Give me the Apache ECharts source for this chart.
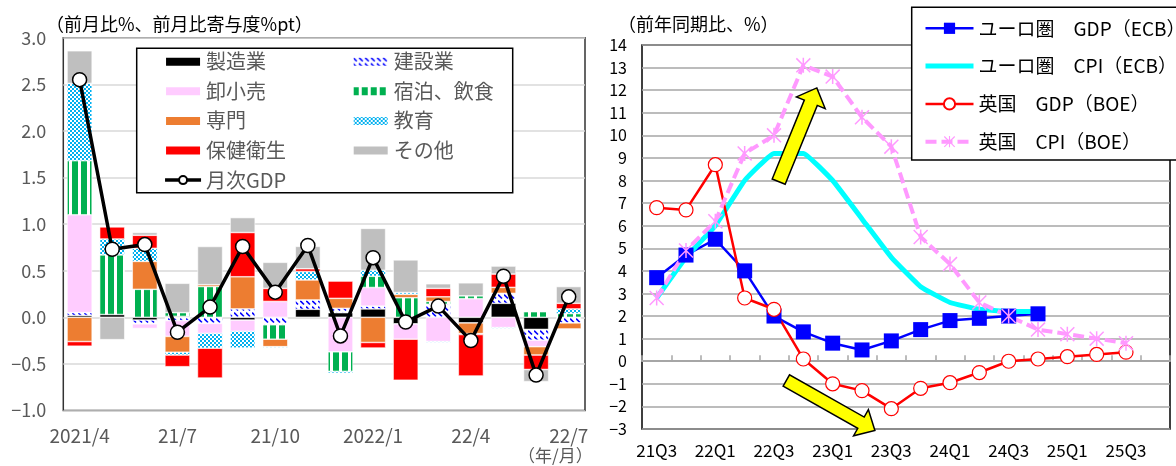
<!DOCTYPE html>
<html>
<head>
<meta charset="utf-8">
<script src="https://cdn.jsdelivr.net/npm/echarts@6/dist/echarts.min.js"></script>
<style>
  html, body { margin: 0; padding: 0; background: #fff; }
  #chart { width: 1176px; height: 466px; }
</style>
</head>
<body>
<div id="chart"></div>
<script>
// ---- Left panel: monthly GDP and industry contributions (% m/m, %pt) ----
const months = ['2021/4','21/5','21/6','21/7','21/8','21/9','21/10','21/11','21/12','2022/1','22/2','22/3','22/4','22/5','22/6','22/7'];
const manufacturing = [0.02, 0.03, -0.03, 0.01, 0, -0.03, 0, 0.086, 0.05, 0.09, -0.07, 0, -0.06, 0.15, -0.13, 0];
const construction  = [0.03, 0, -0.04, -0.035, -0.065, 0.09, -0.08, 0.10, 0.046, 0.03, 0, 0.14, 0, 0.107, -0.115, -0.06];
const retail        = [1.05, 0, -0.05, -0.17, -0.107, -0.12, 0.17, 0, -0.37, 0.20, -0.165, -0.26, 0.20, -0.11, -0.07, 0];
const hospitality   = [0.58, 0.64, 0.30, 0.04, 0.33, 0, -0.155, 0, -0.21, 0.12, 0.21, 0.03, 0.03, 0, 0.06, 0.04];
const professional  = [-0.26, 0, 0.30, -0.17, 0.02, 0.345, -0.08, 0.215, 0.107, -0.27, 0.036, 0.05, -0.115, 0.064, -0.09, -0.065];
const education     = [0.83, 0.17, 0.14, -0.03, -0.16, -0.18, -0.01, 0.09, -0.02, 0.064, 0.02, -0.01, -0.01, -0.01, 0, 0.05];
const health        = [-0.05, 0.13, 0.14, -0.125, -0.32, 0.475, 0.14, 0.03, 0.186, -0.06, -0.44, 0.09, -0.445, 0.143, -0.155, 0.06];
const other         = [0.35, -0.24, 0.03, 0.315, 0.41, 0.16, 0.28, 0.24, 0, 0.45, 0.35, 0.05, 0.14, 0.086, -0.13, 0.18];
const monthlyGdp    = [2.55, 0.73, 0.78, -0.16, 0.11, 0.76, 0.27, 0.77, -0.2, 0.64, -0.05, 0.12, -0.25, 0.44, -0.62, 0.22];
const leftTicks = { min: -1, max: 3, interval: 0.5 };

// ---- Right panel: projections (% y/y) ----
const quarters = ['21Q3','21Q4','22Q1','22Q2','22Q3','22Q4','23Q1','23Q2','23Q3','23Q4','24Q1','24Q2','24Q3','24Q4','25Q1','25Q2','25Q3','25Q4'];
const euroGdp = [3.7, 4.7, 5.4, 4.0, 2.0, 1.3, 0.8, 0.5, 0.9, 1.4, 1.8, 1.9, 2.0, 2.1];
const euroCpi = [2.8, 4.6, 6.0, 8.0, 9.2, 9.2, 8.0, 6.3, 4.6, 3.3, 2.6, 2.3, 2.2, 2.2];
const ukGdp   = [6.8, 6.7, 8.7, 2.8, 2.3, 0.1, -1.0, -1.3, -2.1, -1.2, -0.95, -0.5, 0.0, 0.1, 0.2, 0.3, 0.4];
const ukCpi   = [2.8, 4.9, 6.2, 9.2, 10.0, 13.1, 12.6, 10.8, 9.5, 5.5, 4.3, 2.6, 2.0, 1.4, 1.2, 1.0, 0.8];
const rightTicks = { min: -3, max: 14, interval: 1 };

// Arrow annotations in data space: [categoryIndex, value]
const upArrow   = { tail: [4.16, 7.95], tip: [5.46, 12.1] };
const downArrow = { tail: [4.42, -0.85], tip: [7.44, -3.07] };

const FONT = '"Noto Sans CJK JP", "Noto Sans", sans-serif';
const GRAY_TEXT = '#595959';

function makePattern(w, h, draw) {
  const c = document.createElement('canvas');
  c.width = w; c.height = h;
  const ctx = c.getContext('2d');
  draw(ctx, w, h);
  return { image: c, repeat: 'repeat' };
}
const diagBlue = makePattern(6, 6, (ctx, w, h) => {
  ctx.fillStyle = '#fff'; ctx.fillRect(0, 0, w, h);
  ctx.strokeStyle = '#0000FF'; ctx.lineWidth = 1.6;
  ctx.beginPath(); ctx.moveTo(0, 0.5); ctx.lineTo(4, 4.5); ctx.stroke();
});
const greenStripes = makePattern(9, 4, (ctx, w, h) => {
  ctx.fillStyle = '#fff'; ctx.fillRect(0, 0, w, h);
  ctx.fillStyle = '#00B050'; ctx.fillRect(0, 0, 6, h);
});
const cyanChecker = makePattern(4, 4, (ctx, w, h) => {
  ctx.fillStyle = '#fff'; ctx.fillRect(0, 0, w, h);
  ctx.fillStyle = '#00B0F0'; ctx.fillRect(0, 0, 2, 2); ctx.fillRect(2, 2, 2, 2);
});

const barDefs = [
  ['製造業', manufacturing, '#000000'],
  ['建設業', construction, diagBlue],
  ['卸小売', retail, '#FFCCFF'],
  ['宿泊、飲食', hospitality, greenStripes],
  ['専門', professional, '#ED7D31'],
  ['教育', education, cyanChecker],
  ['保健衛生', health, '#FF0000'],
  ['その他', other, '#BFBFBF']
];

const barSeries = barDefs.map(([name, values, color]) => ({
  name, type: 'bar', stack: 'contrib',
  xAxisIndex: 0, yAxisIndex: 0,
  barWidth: '77%',
  data: values.map(v => (v === 0 ? null : v)),
  itemStyle: { color, borderColor: '#ffffff', borderWidth: 0.6 },
  emphasis: { disabled: true }
}));

const starPath = 'path://M9,0L11,0L11,20L9,20Z M0,1.4L1.4,0L20,18.6L18.6,20Z M18.6,0L20,1.4L1.4,20L0,18.6Z';
const minus = s => String(s).replace('-', '\u2212');

const chart = echarts.init(document.getElementById('chart'), null, { renderer: 'canvas' });

const option = {
  animation: false,
  textStyle: { fontFamily: FONT },
  grid: [
    { left: 63.3, top: 37.7, width: 521.7, height: 372.8, show: true, borderColor: '#333333', borderWidth: 1.5, backgroundColor: 'transparent' },
    { left: 642, top: 45, width: 528, height: 384, show: true, borderColor: '#000000', borderWidth: 1.5, backgroundColor: 'transparent' }
  ],
  xAxis: [
    {
      type: 'category', gridIndex: 0, data: months, position: 'bottom',
      axisLine: { show: false, onZero: false }, axisTick: { show: false },
      axisLabel: { interval: 2, color: GRAY_TEXT, fontSize: 19, margin: 16, fontFamily: FONT },
      splitLine: { show: false }
    },
    {
      type: 'category', gridIndex: 1, data: quarters, position: 'bottom',
      axisLine: { show: false, onZero: false }, axisTick: { show: false },
      axisLabel: { interval: 1, color: '#000', fontSize: 17, margin: 13, fontFamily: FONT },
      splitLine: { show: false }
    },
    {
      type: 'category', gridIndex: 1, data: quarters, position: 'bottom',
      axisLine: { show: true, onZero: true, onZeroAxisIndex: 1, lineStyle: { color: '#a6a6a6', width: 2 } },
      axisTick: { show: true, inside: true, length: 6, interval: 0, lineStyle: { color: '#a6a6a6', width: 1.5 } },
      axisLabel: { show: false },
      splitLine: { show: false }
    }
  ],
  yAxis: [
    {
      type: 'value', gridIndex: 0, min: leftTicks.min, max: leftTicks.max, interval: leftTicks.interval,
      axisLine: { show: false }, axisTick: { show: false },
      axisLabel: { color: GRAY_TEXT, fontSize: 18, margin: 17, fontFamily: FONT, formatter: v => minus(v.toFixed(1)) },
      splitLine: { lineStyle: { color: '#d9d9d9', width: 1.5 } }
    },
    {
      type: 'value', gridIndex: 1, min: rightTicks.min, max: rightTicks.max, interval: rightTicks.interval,
      axisLine: { show: false }, axisTick: { show: false },
      axisLabel: { color: '#000', fontSize: 16, margin: 15, fontFamily: FONT, formatter: v => minus(v) },
      splitLine: { lineStyle: { color: '#a6a6a6', width: 1.5 } }
    }
  ],
  legend: [
    {
      orient: 'vertical', left: 163.3, top: 51.7, padding: 0, itemGap: 9.6,
      itemWidth: 36, itemHeight: 10, selectedMode: false,
      lineStyle: { width: 'inherit' },
      textStyle: { color: GRAY_TEXT, fontSize: 20, lineHeight: 20, fontFamily: FONT },
      data: [
        { name: '製造業', icon: 'rect' }, { name: '卸小売', icon: 'rect' },
        { name: '専門', icon: 'rect' }, { name: '保健衛生', icon: 'rect' },
        { name: '月次GDP' }
      ]
    },
    {
      orient: 'vertical', left: 351.7, top: 51.7, padding: 0, itemGap: 9.6,
      itemWidth: 36, itemHeight: 10, selectedMode: false,
      textStyle: { color: GRAY_TEXT, fontSize: 20, lineHeight: 20, fontFamily: FONT },
      data: [
        { name: '建設業', icon: 'rect' }, { name: '宿泊、飲食', icon: 'rect' },
        { name: '教育', icon: 'rect' }, { name: 'その他', icon: 'rect' }
      ]
    },
    {
      orient: 'vertical', left: 923, top: 18.8, padding: 0, itemGap: 18.8,
      itemWidth: 48, itemHeight: 14, selectedMode: false,
      lineStyle: { width: 'inherit' },
      textStyle: { color: '#000', fontSize: 19, lineHeight: 19, fontFamily: FONT },
      data: [
        'ユーロ圏　GDP（ECB）',
        { name: 'ユーロ圏　CPI（ECB）', itemStyle: { opacity: 0 } },
        '英国　GDP（BOE）',
        '英国　CPI（BOE）'
      ]
    }
  ],
  series: [
    ...barSeries,
    {
      name: '月次GDP', type: 'line', xAxisIndex: 0, yAxisIndex: 0, data: monthlyGdp,
      symbol: 'circle', symbolSize: 14, z: 5,
      lineStyle: { color: '#000', width: 3.5 },
      itemStyle: { color: '#fff', borderColor: '#000', borderWidth: 1.5 },
      emphasis: { disabled: true }
    },
    {
      name: 'ユーロ圏　GDP（ECB）', type: 'line', xAxisIndex: 1, yAxisIndex: 1, data: euroGdp,
      symbol: 'rect', symbolSize: 15,
      lineStyle: { color: '#0000FF', width: 2.5 },
      itemStyle: { color: '#0000FF' },
      emphasis: { disabled: true }
    },
    {
      name: 'ユーロ圏　CPI（ECB）', type: 'line', xAxisIndex: 1, yAxisIndex: 1, data: euroCpi,
      symbol: 'none', smooth: 0.1,
      lineStyle: { color: '#00FFFF', width: 5 },
      itemStyle: { color: '#00FFFF' },
      emphasis: { disabled: true }
    },
    {
      name: '英国　GDP（BOE）', type: 'line', xAxisIndex: 1, yAxisIndex: 1, data: ukGdp,
      symbol: 'circle', symbolSize: 14,
      lineStyle: { color: '#FF0000', width: 2.5 },
      itemStyle: { color: '#fff', borderColor: '#FF0000', borderWidth: 1.2 },
      emphasis: { disabled: true }
    },
    {
      name: '英国　CPI（BOE）', type: 'line', xAxisIndex: 1, yAxisIndex: 1, data: ukCpi,
      symbol: starPath, symbolSize: 15,
      lineStyle: { color: '#FF99FF', width: 4, type: [11, 5] },
      itemStyle: { color: '#FF99FF' },
      emphasis: { disabled: true }
    }
  ]
};

chart.setOption(option);

// Pixel helpers for the right panel (category index may be fractional)
function rightPx(idx, val) {
  const x0 = chart.convertToPixel({ xAxisIndex: 1 }, 0);
  const x1 = chart.convertToPixel({ xAxisIndex: 1 }, 1);
  const y = chart.convertToPixel({ yAxisIndex: 1 }, val);
  return [x0 + idx * (x1 - x0), y];
}
function arrowShape(a, shaftW, headW, headL) {
  const t = rightPx(a.tail[0], a.tail[1]);
  const h = rightPx(a.tip[0], a.tip[1]);
  const dx = h[0] - t[0], dy = h[1] - t[1];
  const len = Math.hypot(dx, dy);
  const ux = dx / len, uy = dy / len;
  const nx = -uy, ny = ux;
  const b = [h[0] - ux * headL, h[1] - uy * headL];
  const p = (base, w) => [base[0] + nx * w / 2, base[1] + ny * w / 2];
  return [p(t, shaftW), p(b, shaftW), p(b, headW), h, p(b, -headW), p(b, -shaftW), p(t, -shaftW)];
}

chart.setOption({
  graphic: [
    // plot titles
    { type: 'text', left: 46, top: 15, z: 5, style: { text: '（前月比%、前月比寄与度%pt）', fill: '#000', font: '18px ' + FONT } },
    { type: 'text', left: 618, top: 15, z: 5, style: { text: '（前年同期比、%）', fill: '#000', font: '18px ' + FONT } },
    { type: 'text', left: 518, top: 447, z: 5, style: { text: '（年/月）', fill: GRAY_TEXT, font: '17px ' + FONT } },
    // legend frames
    { type: 'rect', z: 3, shape: { x: 136.7, y: 48.3, width: 376, height: 144.4 }, style: { fill: '#fff', stroke: '#000', lineWidth: 1.5 } },
    { type: 'rect', z: 3, shape: { x: 911.7, y: 7.3, width: 280, height: 152.7 }, style: { fill: '#fff', stroke: '#000', lineWidth: 1.5 } },
    // trend arrows
    { type: 'polygon', z: 10, shape: { points: arrowShape(upArrow, 14, 31, 16) }, style: { fill: '#FFFF00', stroke: '#000', lineWidth: 1.5 } },
    { type: 'polygon', z: 10, shape: { points: arrowShape(downArrow, 13, 30, 16) }, style: { fill: '#FFFF00', stroke: '#000', lineWidth: 1.5 } }
  ]
});
</script>
</body>
</html>
